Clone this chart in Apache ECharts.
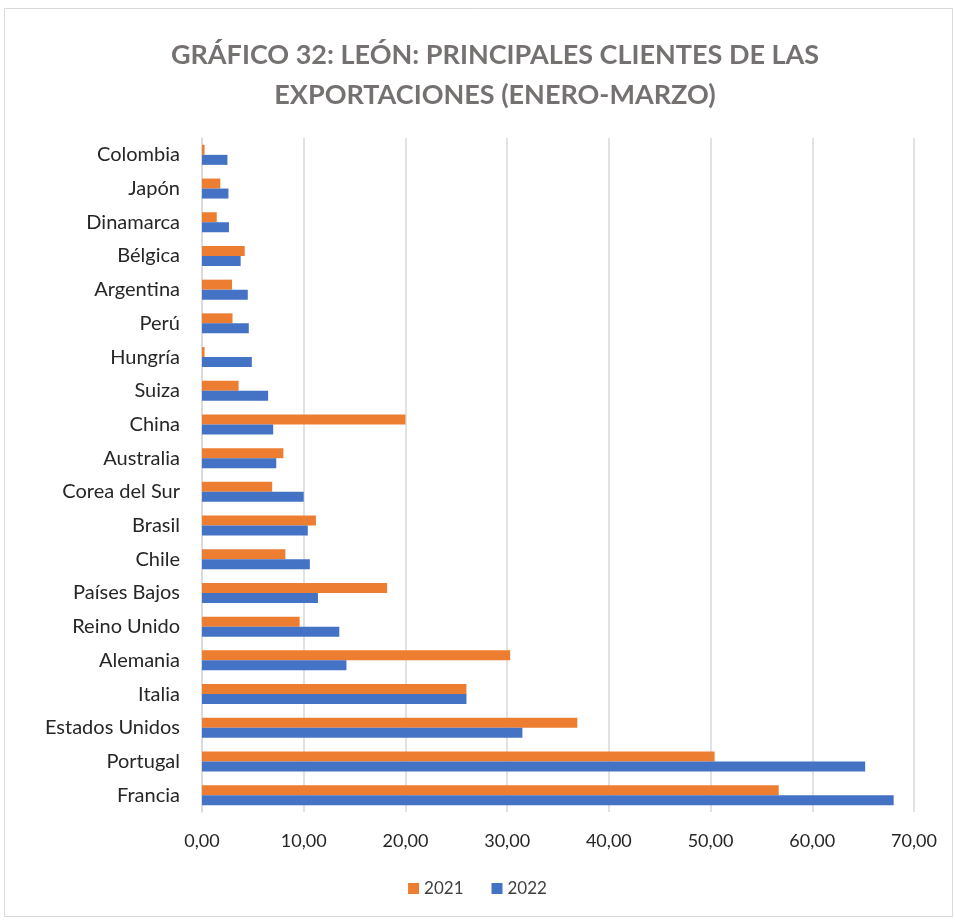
<!DOCTYPE html>
<html>
<head>
<meta charset="utf-8">
<script src="https://cdn.jsdelivr.net/npm/echarts@6/dist/echarts.min.js"></script>
<style>
  html, body { margin: 0; padding: 0; background: #fff; }
  #chart { width: 955px; height: 920px; }
</style>
</head>
<body>
<div id="chart"></div>
<script>
// Countries, listed bottom to top as they appear on the category axis
const paises = ['Francia', 'Portugal', 'Estados Unidos', 'Italia', 'Alemania', 'Reino Unido',
  'Países Bajos', 'Chile', 'Brasil', 'Corea del Sur', 'Australia', 'China', 'Suiza',
  'Hungría', 'Perú', 'Argentina', 'Bélgica', 'Dinamarca', 'Japón', 'Colombia'];
const valores2021 = [56.7, 50.4, 36.9, 26.0, 30.3, 9.6, 18.2, 8.2, 11.2, 6.9, 8.0, 20.0, 3.6,
  0.25, 3.0, 2.95, 4.2, 1.45, 1.8, 0.25];
const valores2022 = [68.0, 65.2, 31.5, 26.0, 14.2, 13.5, 11.4, 10.6, 10.4, 10.0, 7.3, 7.0, 6.5,
  4.9, 4.6, 4.5, 3.8, 2.65, 2.6, 2.5];
const xTicks = { min: 0, max: 70, interval: 10 };
const titulo = 'GRÁFICO 32: LEÓN: PRINCIPALES CLIENTES DE LAS\nEXPORTACIONES (ENERO-MARZO)';

const FONT = 'Lato, "Open Sans", sans-serif';
const chart = echarts.init(document.getElementById('chart'), null, { renderer: 'canvas' });

chart.setOption({
  backgroundColor: '#ffffff',
  animation: false,
  graphic: [{
    type: 'rect',
    shape: { x: 4.5, y: 8.5, width: 948, height: 908 },
    style: { fill: 'none', stroke: '#d9d9d9', lineWidth: 1 },
    silent: true
  }],
  title: {
    text: titulo,
    left: 490,
    textAlign: 'center',
    top: 30,
    textStyle: {
      fontFamily: FONT,
      fontSize: 27,
      fontWeight: 'bold',
      color: '#757171',
      lineHeight: 40
    }
  },
  legend: {
    bottom: 18,
    left: 'center',
    itemWidth: 11,
    itemHeight: 11,
    itemGap: 28,
    icon: 'rect',
    textStyle: { fontFamily: FONT, fontSize: 17, color: '#404040' },
    data: ['2021', '2022']
  },
  grid: { left: 202, right: 41, top: 138, bottom: 108, containLabel: false },
  xAxis: {
    type: 'value',
    min: xTicks.min,
    max: xTicks.max,
    interval: xTicks.interval,
    axisLine: { show: false },
    axisTick: { show: false },
    splitLine: { show: true, lineStyle: { color: '#d9d9d9', width: 1.5 } },
    axisLabel: {
      fontFamily: FONT,
      fontSize: 18,
      color: '#262626',
      margin: 20,
      formatter: v => v.toFixed(2).replace('.', ',')
    }
  },
  yAxis: {
    type: 'category',
    data: paises,
    axisLine: { show: true, lineStyle: { color: '#d9d9d9', width: 1.5 } },
    axisTick: { show: false },
    axisLabel: {
      fontFamily: FONT,
      fontSize: 20,
      color: '#262626',
      margin: 22
    }
  },
  series: [
    {
      name: '2021',
      type: 'bar',
      data: valores2021,
      barWidth: 10,
      barGap: '0%',
      itemStyle: { color: '#ED7D31' }
    },
    {
      name: '2022',
      type: 'bar',
      data: valores2022,
      barWidth: 10,
      barGap: '0%',
      itemStyle: { color: '#4472C4' }
    }
  ]
});
</script>
</body>
</html>
